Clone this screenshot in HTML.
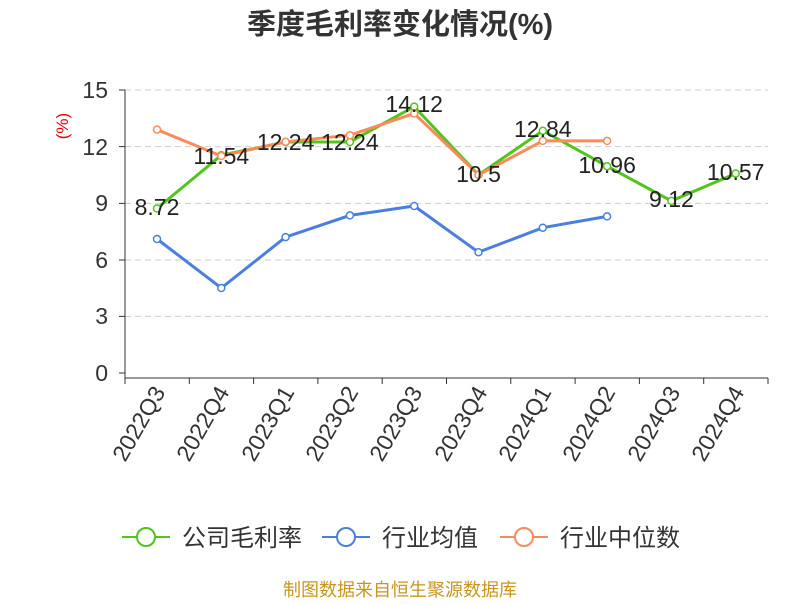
<!DOCTYPE html>
<html><head><meta charset="utf-8"><style>
body{margin:0;background:#fff;}
text{font-family:"Liberation Sans","Noto Sans CJK SC",sans-serif;}
</style></head><body>
<svg width="800" height="600" xmlns="http://www.w3.org/2000/svg">
<text x="400" y="34" text-anchor="middle" font-size="29" font-weight="bold" fill="#333">季度毛利率变化情况(%)</text>
<text x="68" y="126" font-size="17" fill="#e00" transform="rotate(-90 68 126)" text-anchor="middle">(%)</text>
<g stroke="#ccc" stroke-dasharray="6,4" stroke-width="1">
<line x1="125" x2="768" y1="90" y2="90"/><line x1="125" x2="768" y1="146.6" y2="146.6"/>
<line x1="125" x2="768" y1="203.4" y2="203.4"/><line x1="125" x2="768" y1="260" y2="260"/>
<line x1="125" x2="768" y1="316.4" y2="316.4"/></g>
<g stroke="#333" stroke-width="1">
<line x1="125" y1="90" x2="125" y2="378"/><line x1="125" y1="378" x2="768" y2="378"/>
<line x1="119" x2="125" y1="90" y2="90"/><line x1="119" x2="125" y1="146.6" y2="146.6"/><line x1="119" x2="125" y1="203.4" y2="203.4"/><line x1="119" x2="125" y1="260" y2="260"/><line x1="119" x2="125" y1="316.4" y2="316.4"/><line x1="119" x2="125" y1="373" y2="373"/>
<line x1="125" x2="125" y1="378" y2="384"/><line x1="189.3" x2="189.3" y1="378" y2="384"/><line x1="253.6" x2="253.6" y1="378" y2="384"/><line x1="317.9" x2="317.9" y1="378" y2="384"/><line x1="382.2" x2="382.2" y1="378" y2="384"/><line x1="446.5" x2="446.5" y1="378" y2="384"/><line x1="510.8" x2="510.8" y1="378" y2="384"/><line x1="575.1" x2="575.1" y1="378" y2="384"/><line x1="639.4" x2="639.4" y1="378" y2="384"/><line x1="703.7" x2="703.7" y1="378" y2="384"/><line x1="768" x2="768" y1="378" y2="384"/>
</g>
<g font-size="23" fill="#333" text-anchor="end">
<text x="108" y="98">15</text><text x="108" y="155">12</text><text x="108" y="211">9</text><text x="108" y="268">6</text><text x="108" y="324">3</text><text x="108" y="381">0</text></g>
<g font-size="23" fill="#333" text-anchor="end">
<text transform="translate(166 392) rotate(-60)">2022Q3</text>
<text transform="translate(230 392) rotate(-60)">2022Q4</text>
<text transform="translate(295 392) rotate(-60)">2023Q1</text>
<text transform="translate(359 392) rotate(-60)">2023Q2</text>
<text transform="translate(423 392) rotate(-60)">2023Q3</text>
<text transform="translate(488 392) rotate(-60)">2023Q4</text>
<text transform="translate(552 392) rotate(-60)">2024Q1</text>
<text transform="translate(616 392) rotate(-60)">2024Q2</text>
<text transform="translate(681 392) rotate(-60)">2024Q3</text>
<text transform="translate(745 392) rotate(-60)">2024Q4</text></g>
<polyline fill="none" stroke="#52c41a" stroke-width="3" points="157,208.5 221.3,155.2 285.6,142 349.9,142 414.2,106.6 478.5,174.9 542.8,130.7 607.1,166.2 671.4,200.9 735.7,173.5"/>
<polyline fill="none" stroke="#4a7fe0" stroke-width="3" points="157,239 221.3,288 285.6,237.1 349.9,215.4 414.2,206 478.5,252.2 542.8,227.7 607.1,216.4"/>
<polyline fill="none" stroke="#fa8a5a" stroke-width="3" points="157,129.6 221.3,156 285.6,141.8 349.9,135.2 414.2,113.5 478.5,174.9 542.8,140.9 607.1,140.9"/>
<g fill="#fff" stroke-width="1.5">
<g stroke="#52c41a"><circle cx="157" cy="208.5" r="3.5"/><circle cx="221.3" cy="155.2" r="3.5"/><circle cx="285.6" cy="142" r="3.5"/><circle cx="349.9" cy="142" r="3.5"/><circle cx="414.2" cy="106.6" r="3.5"/><circle cx="478.5" cy="174.9" r="3.5"/><circle cx="542.8" cy="130.7" r="3.5"/><circle cx="607.1" cy="166.2" r="3.5"/><circle cx="671.4" cy="200.9" r="3.5"/><circle cx="735.7" cy="173.5" r="3.5"/></g>
<g stroke="#4a7fe0"><circle cx="157" cy="239" r="3.5"/><circle cx="221.3" cy="288" r="3.5"/><circle cx="285.6" cy="237.1" r="3.5"/><circle cx="349.9" cy="215.4" r="3.5"/><circle cx="414.2" cy="206" r="3.5"/><circle cx="478.5" cy="252.2" r="3.5"/><circle cx="542.8" cy="227.7" r="3.5"/><circle cx="607.1" cy="216.4" r="3.5"/></g>
<g stroke="#fa8a5a"><circle cx="157" cy="129.6" r="3.5"/><circle cx="221.3" cy="156" r="3.5"/><circle cx="285.6" cy="141.8" r="3.5"/><circle cx="349.9" cy="135.2" r="3.5"/><circle cx="414.2" cy="113.5" r="3.5"/><circle cx="478.5" cy="174.9" r="3.5"/><circle cx="542.8" cy="140.9" r="3.5"/><circle cx="607.1" cy="140.9" r="3.5"/></g>
</g>
<g font-size="23" fill="#222" text-anchor="middle">
<text x="157" y="215">8.72</text><text x="221.3" y="164">11.54</text><text x="285.6" y="150">12.24</text><text x="349.9" y="150">12.24</text><text x="414.2" y="112">14.12</text><text x="478.5" y="182">10.5</text><text x="542.8" y="137">12.84</text><text x="607.1" y="173">10.96</text><text x="671.4" y="207">9.12</text><text x="735.7" y="180">10.57</text></g>
<g stroke-width="2" fill="#fff">
<line x1="122" x2="170" y1="537" y2="537" stroke="#52c41a"/><circle cx="146" cy="537" r="9" stroke="#52c41a"/>
<line x1="322" x2="370" y1="537" y2="537" stroke="#4a7fe0"/><circle cx="346" cy="537" r="9" stroke="#4a7fe0"/>
<line x1="500" x2="548" y1="537" y2="537" stroke="#fa8a5a"/><circle cx="524" cy="537" r="9" stroke="#fa8a5a"/></g>
<g font-size="24" fill="#333"><text x="182" y="546">公司毛利率</text><text x="382" y="546">行业均值</text><text x="560" y="546">行业中位数</text></g>
<text x="400" y="596" text-anchor="middle" font-size="18" fill="#c8961e">制图数据来自恒生聚源数据库</text>
</svg>
</body></html>
